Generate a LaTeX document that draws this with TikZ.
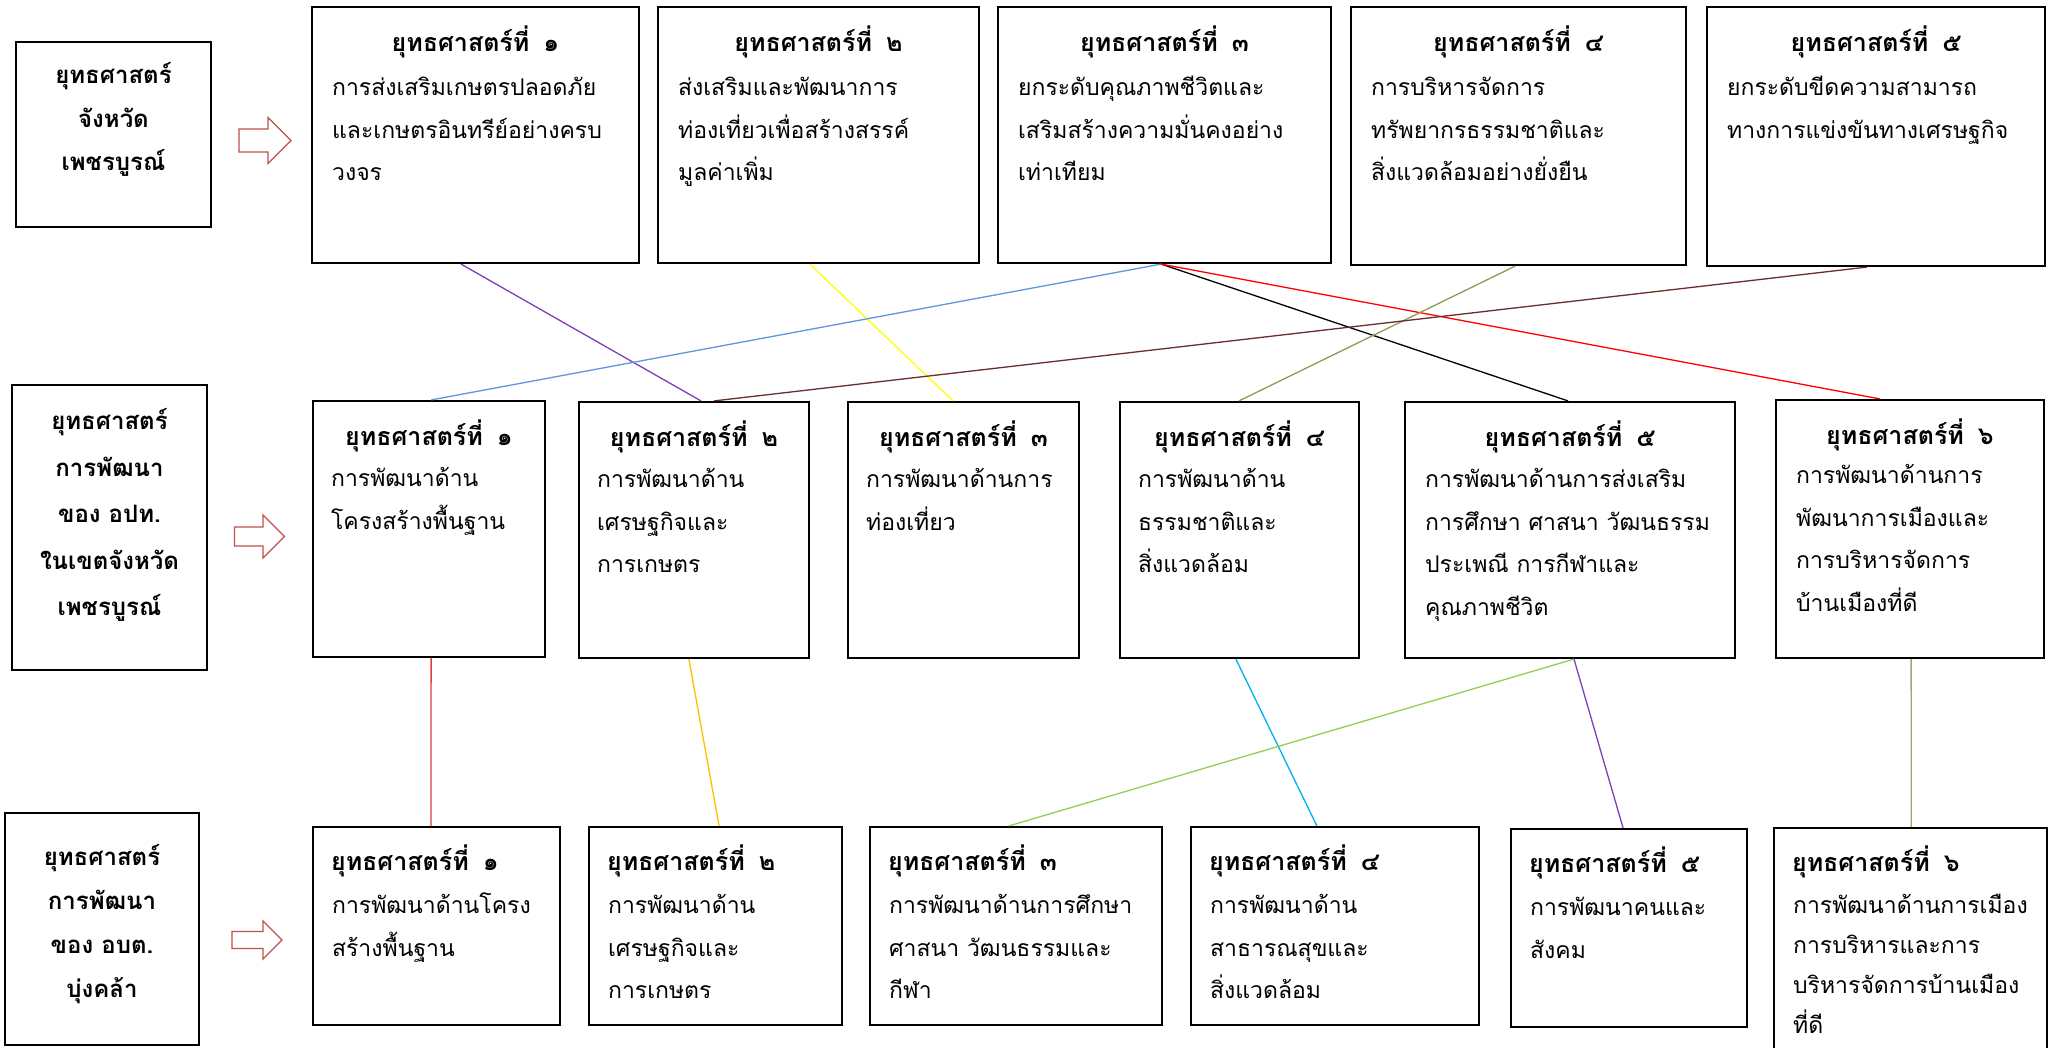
\documentclass[tikz,border=0pt]{standalone}
\usepackage{fontspec}
\newfontfamily\thai[Script=Thai]{Loma}
\usetikzlibrary{calc}
\definecolor{cPurple}{HTML}{7E3FB8}
\definecolor{cYellow}{HTML}{FFFF00}
\definecolor{cBlue}{HTML}{5F96DC}
\definecolor{cBrown}{HTML}{6B2C2C}
\definecolor{cRed}{HTML}{FF0000}
\definecolor{cOlive}{HTML}{8C9C55}
\definecolor{cDarkRed}{HTML}{D9403F}
\definecolor{cOrange}{HTML}{FFC000}
\definecolor{cLightGreen}{HTML}{92D050}
\definecolor{cCyan}{HTML}{00B0F0}
\definecolor{cGray}{HTML}{A6A27A}
\definecolor{cArrow}{HTML}{C0504D}
\newcommand{\thbody}{\thai\fontsize{23}{42.5}\selectfont}
\newcommand{\thtitle}{\thai\bfseries\fontsize{25}{42.5}\selectfont}
\newcommand{\hollowarr}[5]{% left x, center y, half shaft, half head, shaft length
  \draw[arrowline] (#1,#2-#3) -- ++(#5,0) -- ++(0,#3-#4) -- ++(#4,#4) -- ++(-#4,#4) -- ++(0,#3-#4) -- ++(-#5,0) -- cycle;}
\tikzset{
  frame/.style={draw=black, line width=2.2pt, fill=white, inner sep=0pt},
  ttl/.style={anchor=base, inner sep=0pt, font=\thtitle},
  ttlw/.style={anchor=base west, inner sep=0pt, font=\thtitle},
  bodytxt/.style={anchor=base west, inner sep=0pt, font=\thbody},
  lbl/.style={anchor=base, inner sep=0pt},
  conn/.style={line width=1.3pt},
  arrowline/.style={draw=cArrow, line width=1.4pt, fill=white, line join=miter},
}
\newcommand{\bodylines}[1]{\parbox[t]{330pt}{\raggedright #1}}
\begin{document}
\begin{tikzpicture}[x=1pt,y=-1pt]
\useasboundingbox (0,0) rectangle (2056,1048);
\fill[white] (0,0) rectangle (2056,1048);
\clip (0,0) rectangle (2056,1048);

% ---------- label boxes ----------
\node[frame, minimum width=195, minimum height=185] (A) at (113.5,134.5) {};
\node[frame, minimum width=195, minimum height=285] (B) at (109.5,527.5) {};
\node[frame, minimum width=194, minimum height=232] (C) at (102,929) {};
\node[lbl, font=\thai\bfseries\fontsize{24}{43.5}\selectfont] (Atx) at ($(A.north)+(0,43)$) {\parbox[t]{190pt}{\centering ยุทธศาสตร์\\จังหวัด\\เพชรบูรณ์}};
\node[lbl, font=\thai\bfseries\fontsize{24}{46.5}\selectfont] (Btx) at ($(B.north)+(0,46)$) {\parbox[t]{190pt}{\centering ยุทธศาสตร์\\การพัฒนา\\ของ อปท.\\ในเขตจังหวัด\\เพชรบูรณ์}};
\node[lbl, font=\thai\bfseries\fontsize{24}{44}\selectfont] (Ctx) at ($(C.north)+(0,54)$) {\parbox[t]{190pt}{\centering ยุทธศาสตร์\\การพัฒนา\\ของ อบต.\\บุ่งคล้า}};

% ---------- arrows ----------
\hollowarr{239}{140.5}{11.5}{23}{29}
\hollowarr{234.5}{536.5}{9.5}{21.5}{28.5}
\hollowarr{232}{940}{8.5}{19}{31}

% ---------- top row ----------
\node[frame, minimum width=327, minimum height=256] (t1) at (475.5,135) {};
\node[frame, minimum width=321, minimum height=256] (t2) at (818.5,135) {};
\node[frame, minimum width=333, minimum height=256] (t3) at (1164.5,135) {};
\node[frame, minimum width=335, minimum height=258] (t4) at (1518.5,136) {};
\node[frame, minimum width=338, minimum height=259] (t5) at (1876,136.5) {};

\node[ttl] (t1t) at ($(t1.north)+(0,46)$) {ยุทธศาสตร์ที่\hspace{14pt}๑};
\node[ttl] (t2t) at ($(t2.north)+(0,46)$) {ยุทธศาสตร์ที่\hspace{14pt}๒};
\node[ttl] (t3t) at ($(t3.north)+(0,46)$) {ยุทธศาสตร์ที่\hspace{14pt}๓};
\node[ttl] (t4t) at ($(t4.north)+(0,46)$) {ยุทธศาสตร์ที่\hspace{14pt}๔};
\node[ttl] (t5t) at ($(t5.north)+(0,46)$) {ยุทธศาสตร์ที่\hspace{14pt}๕};

\node[bodytxt] (t1b) at ($(t1.north west)+(21,90)$) {\bodylines{การส่งเสริมเกษตรปลอดภัย\\และเกษตรอินทรีย์อย่างครบ\\วงจร}};
\node[bodytxt] (t2b) at ($(t2.north west)+(21,90)$) {\bodylines{ส่งเสริมและพัฒนาการ\\ท่องเที่ยวเพื่อสร้างสรรค์\\มูลค่าเพิ่ม}};
\node[bodytxt] (t3b) at ($(t3.north west)+(21,90)$) {\bodylines{ยกระดับคุณภาพชีวิตและ\\เสริมสร้างความมั่นคงอย่าง\\เท่าเทียม}};
\node[bodytxt] (t4b) at ($(t4.north west)+(21,90)$) {\bodylines{การบริหารจัดการ\\ทรัพยากรธรรมชาติและ\\สิ่งแวดล้อมอย่างยั่งยืน}};
\node[bodytxt] (t5b) at ($(t5.north west)+(21,90)$) {\bodylines{ยกระดับขีดความสามารถ\\ทางการแข่งขันทางเศรษฐกิจ}};

% ---------- middle row ----------
\node[frame, minimum width=232, minimum height=256] (m1) at (429,529) {};
\node[frame, minimum width=230, minimum height=256] (m2) at (694,530) {};
\node[frame, minimum width=231, minimum height=256] (m3) at (963.5,530) {};
\node[frame, minimum width=239, minimum height=256] (m4) at (1239.5,530) {};
\node[frame, minimum width=330, minimum height=256] (m5) at (1570,530) {};
\node[frame, minimum width=268, minimum height=258] (m6) at (1910,529) {};

\node[ttl] (m1t) at ($(m1.north)+(0,46)$) {ยุทธศาสตร์ที่\hspace{14pt}๑};
\node[ttl] (m2t) at ($(m2.north)+(0,46)$) {ยุทธศาสตร์ที่\hspace{14pt}๒};
\node[ttl] (m3t) at ($(m3.north)+(0,46)$) {ยุทธศาสตร์ที่\hspace{14pt}๓};
\node[ttl] (m4t) at ($(m4.north)+(0,46)$) {ยุทธศาสตร์ที่\hspace{14pt}๔};
\node[ttl] (m5t) at ($(m5.north)+(0,46)$) {ยุทธศาสตร์ที่\hspace{14pt}๕};
\node[ttl] (m6t) at ($(m6.north)+(0,46)$) {ยุทธศาสตร์ที่\hspace{14pt}๖};

\node[bodytxt] (m1b) at ($(m1.north west)+(19,87)$) {\bodylines{การพัฒนาด้าน\\โครงสร้างพื้นฐาน}};
\node[bodytxt] (m2b) at ($(m2.north west)+(19,87)$) {\bodylines{การพัฒนาด้าน\\เศรษฐกิจและ\\การเกษตร}};
\node[bodytxt] (m3b) at ($(m3.north west)+(19,87)$) {\bodylines{การพัฒนาด้านการ\\ท่องเที่ยว}};
\node[bodytxt] (m4b) at ($(m4.north west)+(19,87)$) {\bodylines{การพัฒนาด้าน\\ธรรมชาติและ\\สิ่งแวดล้อม}};
\node[bodytxt] (m5b) at ($(m5.north west)+(21,87)$) {\bodylines{การพัฒนาด้านการส่งเสริม\\การศึกษา ศาสนา วัฒนธรรม\\ประเพณี การกีฬาและ\\คุณภาพชีวิต}};
\node[bodytxt] (m6b) at ($(m6.north west)+(21,85)$) {\bodylines{การพัฒนาด้านการ\\พัฒนาการเมืองและ\\การบริหารจัดการ\\บ้านเมืองที่ดี}};

% ---------- bottom row ----------
\node[frame, minimum width=247, minimum height=198] (b1) at (436.5,926) {};
\node[frame, minimum width=253, minimum height=198] (b2) at (715.5,926) {};
\node[frame, minimum width=292, minimum height=198] (b3) at (1016,926) {};
\node[frame, minimum width=288, minimum height=198] (b4) at (1335,926) {};
\node[frame, minimum width=236, minimum height=198] (b5) at (1629,928) {};
\node[frame, minimum width=273, minimum height=242] (b6) at (1910.5,949) {};

\node[ttlw] (b1t) at ($(b1.north west)+(19,45)$) {ยุทธศาสตร์ที่\hspace{14pt}๑};
\node[ttlw] (b2t) at ($(b2.north west)+(19,45)$) {ยุทธศาสตร์ที่\hspace{14pt}๒};
\node[ttlw] (b3t) at ($(b3.north west)+(19,45)$) {ยุทธศาสตร์ที่\hspace{14pt}๓};
\node[ttlw] (b4t) at ($(b4.north west)+(19,45)$) {ยุทธศาสตร์ที่\hspace{14pt}๔};
\node[ttlw] (b5t) at ($(b5.north west)+(19,45)$) {ยุทธศาสตร์ที่\hspace{14pt}๕};
\node[ttlw] (b6t) at ($(b6.north west)+(19,45)$) {ยุทธศาสตร์ที่\hspace{14pt}๖};

\node[bodytxt] (b1b) at ($(b1.north west)+(20,88)$) {\bodylines{การพัฒนาด้านโครง\\สร้างพื้นฐาน}};
\node[bodytxt] (b2b) at ($(b2.north west)+(20,88)$) {\bodylines{การพัฒนาด้าน\\เศรษฐกิจและ\\การเกษตร}};
\node[bodytxt] (b3b) at ($(b3.north west)+(20,88)$) {\bodylines{การพัฒนาด้านการศึกษา\\ศาสนา วัฒนธรรมและ\\กีฬา}};
\node[bodytxt] (b4b) at ($(b4.north west)+(20,88)$) {\bodylines{การพัฒนาด้าน\\สาธารณสุขและ\\สิ่งแวดล้อม}};
\node[bodytxt] (b5b) at ($(b5.north west)+(20,88)$) {\bodylines{การพัฒนาคนและ\\สังคม}};
\node[bodytxt, font=\thai\fontsize{23}{40}\selectfont] (b6b) at ($(b6.north west)+(20,87)$) {\bodylines{การพัฒนาด้านการเมือง\\การบริหารและการ\\บริหารจัดการบ้านเมือง\\ที่ดี}};

% ---------- connectors top -> middle ----------
\draw[conn, cPurple] ($(t1.south west)!0.456!(t1.south east)$) -- ($(m2.north west)!0.53!(m2.north east)$);
\draw[conn, cYellow] ($(t2.south west)!0.473!(t2.south east)$) -- ($(m3.north west)!0.455!(m3.north east)$);
\draw[conn, cBlue] ($(t3.south west)!0.49!(t3.south east)$) -- ($(m1.north west)!0.51!(m1.north east)$);
\draw[conn, black] ($(t3.south west)!0.49!(t3.south east)$) -- ($(m5.north west)!0.494!(m5.north east)$);
\draw[conn, cRed] ($(t3.south west)!0.49!(t3.south east)$) -- ($(m6.north west)!0.388!(m6.north east)$);
\draw[conn, cOlive] ($(t4.south west)!0.49!(t4.south east)$) -- ($(m4.north west)!0.498!(m4.north east)$);
\draw[conn, cBrown] ($(t5.south west)!0.473!(t5.south east)$) -- ($(m2.north west)!0.587!(m2.north east)$);

% ---------- connectors middle -> bottom ----------
\draw[conn, cDarkRed] ($(m1.south west)!0.509!(m1.south east)$) -- ($(b1.north west)!0.478!(b1.north east)$);
\draw[conn, cOrange] ($(m2.south west)!0.478!(m2.south east)$) -- ($(b2.north west)!0.514!(b2.north east)$);
\draw[conn, cCyan] ($(m4.south west)!0.485!(m4.south east)$) -- ($(b4.north west)!0.4375!(b4.north east)$);
\draw[conn, cLightGreen] ($(m5.south west)!0.512!(m5.south east)$) -- ($(b3.north west)!0.476!(b3.north east)$);
\draw[conn, cPurple] ($(m5.south west)!0.512!(m5.south east)$) -- ($(b5.north west)!0.475!(b5.north east)$);
\draw[conn, cGray] ($(m6.south west)!0.504!(m6.south east)$) -- ($(b6.north west)!0.503!(b6.north east)$);
\end{tikzpicture}
\end{document}
